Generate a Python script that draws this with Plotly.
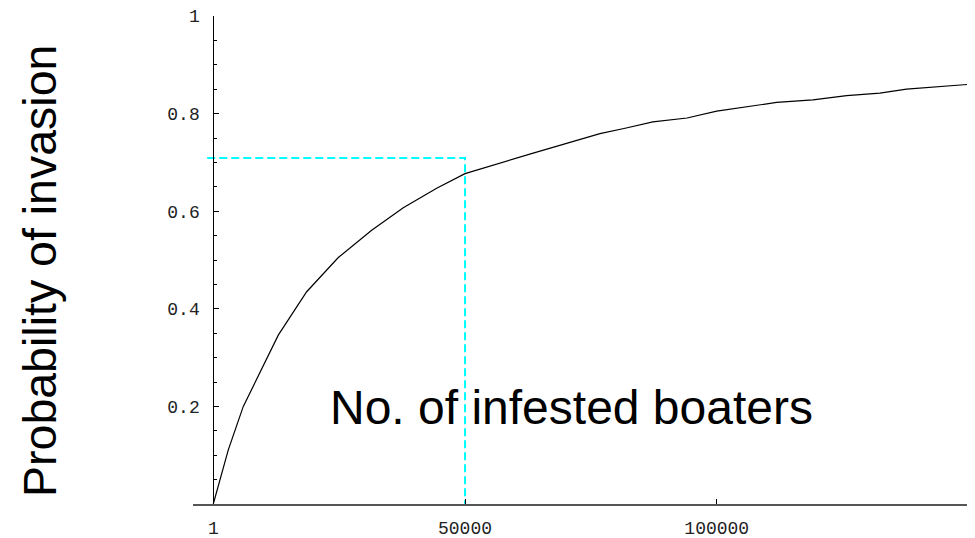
import plotly.graph_objects as go

# Data
boaters = [1, 2980, 5960, 12910, 18550, 24830, 31460, 37740, 44370, 50000,
           63200, 69200, 76800, 81800, 87300, 94100, 100000, 111900, 119100,
           125800, 132400, 137700, 150200]
prob = [0, 0.111, 0.200, 0.346, 0.435, 0.505, 0.561, 0.607, 0.647, 0.677,
        0.718, 0.736, 0.759, 0.770, 0.783, 0.791, 0.805, 0.823, 0.828,
        0.837, 0.842, 0.850, 0.860]

guide_x = [-1200, 50000, 50000]
guide_y = [0.709, 0.709, 0]

x_ticks = [1, 50000, 100000]
x_ticktext = ["1", "50000", "100000"]
y_ticks = [0.2, 0.4, 0.6, 0.8, 1]
y_ticktext = ["0.2", "0.4", "0.6", "0.8", "1"]

fig = go.Figure()
fig.add_trace(go.Scatter(x=boaters, y=prob, mode="lines",
                         line=dict(color="black", width=1.2), showlegend=False))
fig.add_trace(go.Scatter(x=guide_x, y=guide_y, mode="lines",
                         line=dict(color="#00FFFF", width=2, dash="8px,4px"),
                         showlegend=False))

# page body has an 8px default margin
W, H = 975, 538
L, R, T, B = 185, 8, 8, 42
plot_w = W - L - R

tickfont = dict(family="Liberation Mono, Courier New, monospace", size=18, color="#222")

fig.update_layout(
    width=W, height=H,
    margin=dict(l=L, r=R, t=T, b=B, pad=0),
    paper_bgcolor="white", plot_bgcolor="white",
    xaxis=dict(range=[-4030, 151300], showgrid=False, zeroline=False,
               showline=True, linecolor="#555", linewidth=1.5,
               tickmode="array", tickvals=x_ticks, ticktext=x_ticktext,
               ticks="inside", ticklen=5, tickcolor="black", tickwidth=1,
               tickfont=tickfont, ticklabelstandoff=7, automargin=False,
               ticklabeloverflow="allow"),
    yaxis=dict(range=[0, 1], showgrid=False, zeroline=False,
               anchor="free", position=(213.3 - 8 - L) / plot_w,
               showline=True, linecolor="black", linewidth=1,
               tickmode="array", tickvals=y_ticks, ticktext=y_ticktext,
               ticks="inside", ticklen=5, tickcolor="black", tickwidth=1,
               minor=dict(tickvals=[0.05, 0.1, 0.15, 0.25, 0.3, 0.35, 0.45, 0.5, 0.55,
                                    0.65, 0.7, 0.75, 0.85, 0.9, 0.95],
                          ticks="inside", ticklen=3, tickcolor="black", tickwidth=1),
               tickfont=tickfont, ticklabelstandoff=10, automargin=False,
               ticklabeloverflow="allow"),
    annotations=[
        dict(text="Probability of invasion", xref="paper", yref="paper",
             x=(40 - 8 - L) / plot_w, y=0.4775, textangle=-90, showarrow=False,
             xanchor="center", yanchor="middle",
             font=dict(family="Liberation Sans, Arial, sans-serif", size=46.5, color="black")),
        dict(text="No. of infested boaters", xref="x", yref="y",
             x=71200, y=0.197, showarrow=False, xanchor="center", yanchor="middle",
             font=dict(family="Liberation Sans, Arial, sans-serif", size=48, color="black")),
    ],
)

fig.write_html("out.html")
